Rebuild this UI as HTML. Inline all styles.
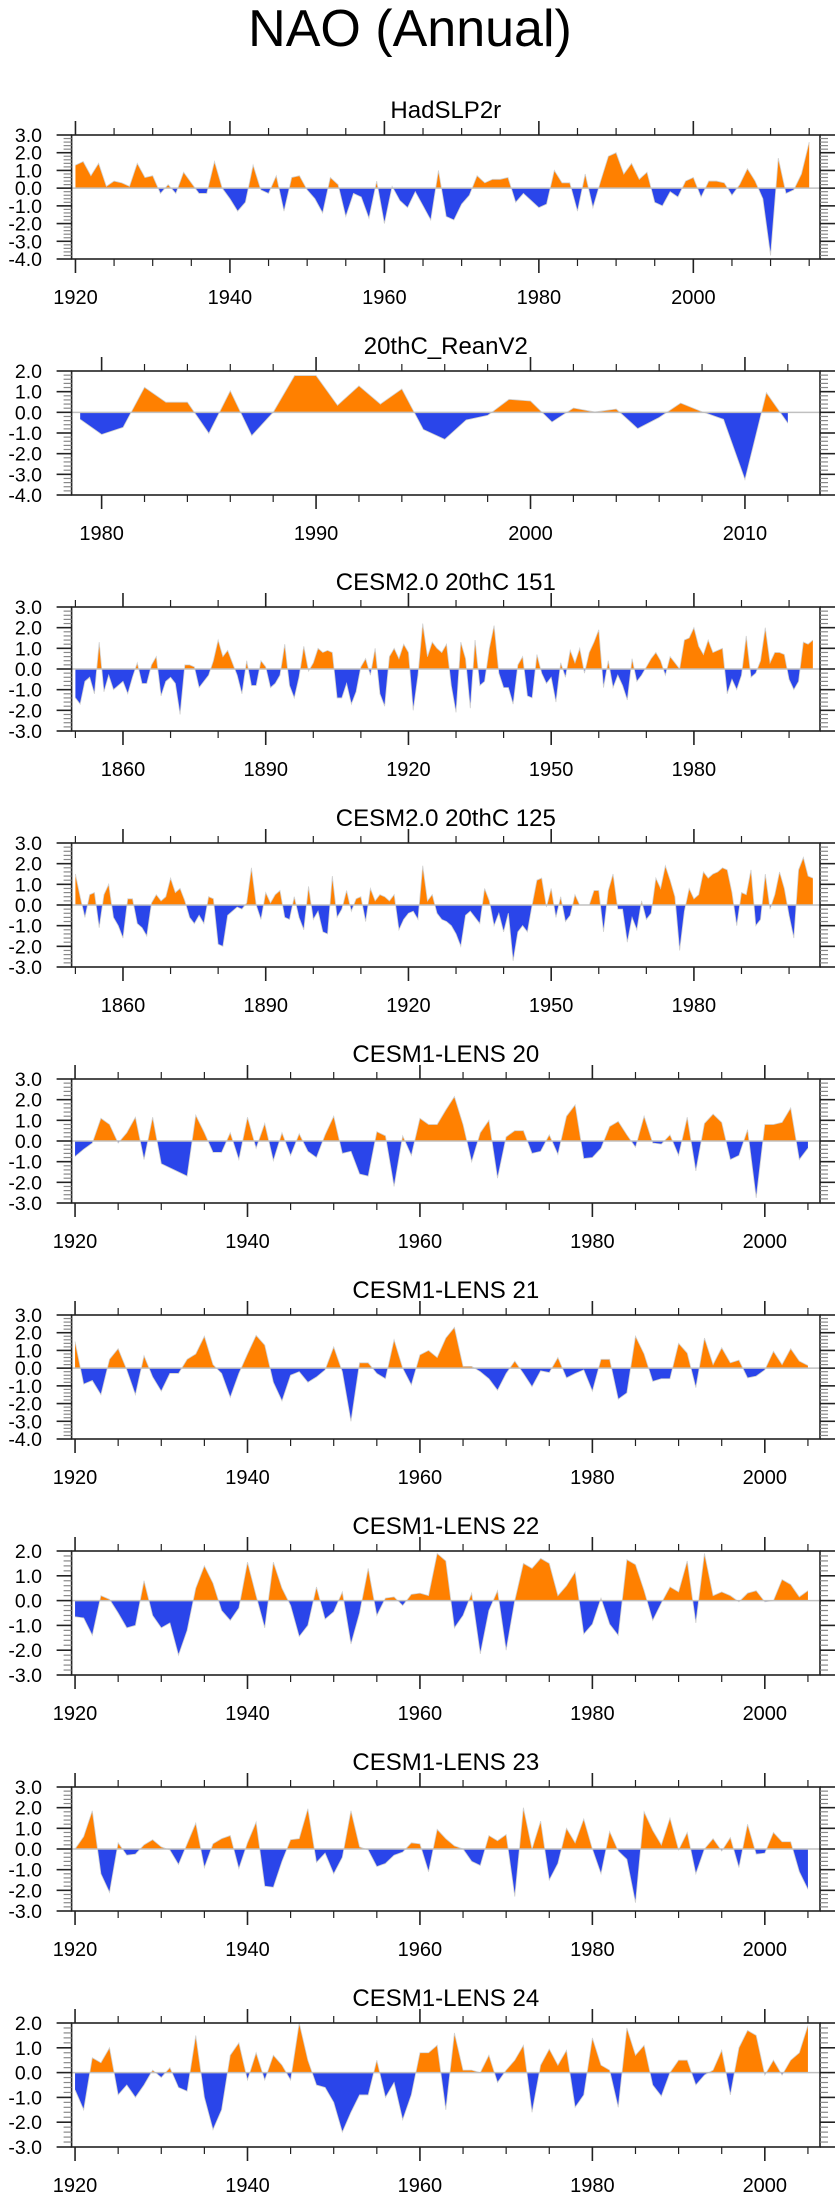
<!DOCTYPE html>
<html><head><meta charset="utf-8">
<style>
html,body{margin:0;padding:0;background:#fff;}
svg{display:block;font-family:"Liberation Sans",sans-serif;}
</style></head>
<body>
<svg id="chart" width="840" height="2200" viewBox="0 0 840 2200" xmlns="http://www.w3.org/2000/svg">
<text x="410" y="46" font-size="52" text-anchor="middle" fill="#000">NAO (Annual)</text>
</svg>
<script>
const hadslp2r = [1.3,1.5,0.7,1.4,0.1,0.4,0.3,0.1,1.4,0.6,0.7,-0.3,0.2,-0.3,0.9,0.3,-0.3,-0.3,1.5,0.0,-0.6,-1.3,-0.8,1.3,-0.1,-0.3,0.7,-1.3,0.6,0.7,-0.1,-0.6,-1.4,0.6,0.2,-1.6,-0.3,-0.5,-1.7,0.4,-2.0,0.1,-0.7,-1.1,-0.2,-1.0,-1.8,1.0,-1.6,-1.8,-0.9,-0.4,0.7,0.3,0.5,0.5,0.6,-0.8,-0.3,-0.7,-1.1,-0.9,1.0,0.3,0.3,-1.3,0.8,-1.1,0.4,1.8,2.0,0.8,1.4,0.5,0.9,-0.8,-1.0,-0.2,-0.5,0.4,0.6,-0.5,0.4,0.4,0.3,-0.4,0.2,1.1,0.4,-0.6,-3.8,1.7,-0.3,-0.1,0.8,2.6];
const reanV2 = [-0.34,-1.07,-0.73,1.21,0.49,0.49,-1.02,1.04,-1.13,0.0,1.78,1.78,0.34,1.28,0.40,1.13,-0.83,-1.31,-0.37,-0.15,0.63,0.55,-0.47,0.21,0.02,0.16,-0.79,-0.25,0.45,0.03,-0.34,-3.25,0.95,-0.53];
const cesm2_151 = [-1.4,-1.7,-0.6,-0.4,-1.2,1.3,-1.1,-0.3,-1.0,-0.8,-0.6,-1.2,-0.4,0.3,-0.7,-0.7,0.2,0.6,-1.3,-0.6,-0.4,-0.7,-2.2,0.2,0.2,0.1,-0.9,-0.6,-0.3,0.4,1.4,0.6,0.9,0.3,-0.3,-1.2,0.4,-0.8,-0.8,0.4,0.1,-0.9,-0.7,-0.3,1.2,-0.8,-1.4,-0.4,1.1,-0.1,0.3,1.0,0.8,0.9,0.8,-1.4,-1.4,-0.7,-1.7,-1.1,0.1,0.5,-0.3,1.0,-1.2,-1.8,0.6,1.0,0.5,1.2,0.8,-2.0,-0.3,2.2,0.6,1.3,1.0,0.8,1.2,-0.8,-2.1,1.3,0.5,-1.9,1.4,-0.8,-0.6,1.0,2.1,-0.2,-0.9,-0.9,-1.7,0.2,0.6,-1.3,-1.4,0.7,-0.2,-0.7,-0.4,-1.6,0.3,-0.4,0.9,0.3,1.0,-0.2,0.8,1.3,1.9,-0.9,0.4,-0.9,-0.3,-0.8,-1.5,0.5,-0.6,-0.3,0.1,0.5,0.8,0.4,-0.3,0.6,0.3,0.0,1.4,1.5,2.0,1.1,0.7,1.4,0.8,0.9,1.0,-1.2,-0.5,-1.0,-0.3,1.6,-0.4,-0.2,0.4,2.0,0.3,0.8,0.8,0.7,-0.5,-1.0,-0.6,1.3,1.2,1.4];
const cesm2_125 = [1.5,0.4,-0.6,0.5,0.6,-1.1,0.5,1.0,-0.6,-1.0,-1.6,0.3,0.3,-0.9,-1.1,-1.5,0.1,0.5,0.2,0.4,1.3,0.6,0.8,0.2,-0.6,-0.9,-0.5,-0.9,0.4,0.3,-1.9,-2.0,-0.5,-0.3,-0.1,-0.2,0.1,1.8,0.0,-0.7,0.6,0.1,0.5,0.7,-0.6,-0.7,0.4,-0.6,-1.2,0.9,-0.7,-0.3,-1.3,-1.4,1.4,-0.6,-0.2,0.7,-0.3,0.3,0.4,-0.8,0.8,0.2,0.5,0.4,0.2,0.5,-1.2,-0.7,-0.4,-0.3,-0.7,1.9,0.2,0.5,-0.4,-0.7,-0.8,-1.0,-1.4,-2.0,-0.5,-0.3,-0.6,-0.9,0.8,0.2,-1.0,-0.4,-1.3,-0.4,-2.7,-1.3,-1.0,-1.3,0.0,1.2,1.3,-0.1,0.8,-0.6,0.4,-0.8,-0.5,0.5,0.0,0.0,0.0,0.7,0.7,-1.3,0.7,1.5,-0.2,-0.2,-1.8,-0.6,-1.2,0.2,-0.7,-0.4,1.3,0.8,1.9,1.2,0.4,-2.2,-0.3,0.8,0.3,0.5,1.6,1.3,1.5,1.6,1.8,1.7,0.6,-1.0,0.6,0.5,1.7,-1.0,-0.7,1.5,-0.2,0.5,1.6,0.8,-0.5,-1.6,1.7,2.3,1.4,1.3];
const lens20 = [-0.75,-0.4,-0.1,1.1,0.8,-0.1,0.4,1.15,-0.9,1.15,-1.1,-1.3,-1.5,-1.7,1.25,0.4,-0.55,-0.55,0.4,-0.9,1.15,-0.35,0.85,-0.95,0.4,-0.7,0.35,-0.5,-0.8,0.3,1.2,-0.6,-0.5,-1.6,-1.7,0.45,0.25,-2.2,0.25,-0.7,1.1,0.8,0.8,1.5,2.15,0.8,-1.0,0.4,1.0,-1.8,0.2,0.5,0.5,-0.6,-0.5,0.3,-0.65,1.2,1.75,-0.85,-0.8,-0.35,0.7,0.95,0.3,-0.3,1.2,-0.1,-0.15,0.3,-0.7,1.15,-1.45,0.85,1.3,0.9,-0.9,-0.7,0.55,-2.75,0.8,0.8,0.9,1.6,-0.9,-0.35];
const lens21 = [1.5,-0.9,-0.7,-1.5,0.5,1.1,-0.1,-1.5,0.7,-0.5,-1.3,-0.3,-0.3,0.5,0.8,1.8,0.2,-0.3,-1.65,-0.3,0.8,1.85,1.3,-0.8,-1.85,-0.4,-0.2,-0.8,-0.5,-0.1,1.2,-0.2,-3.0,0.3,0.3,-0.3,-0.6,1.6,0.0,-0.95,0.75,1.0,0.6,1.7,2.3,0.1,0.1,-0.2,-0.6,-1.25,-0.3,0.4,-0.3,-1.05,-0.15,-0.25,0.6,-0.55,-0.3,-0.1,-1.3,0.5,0.5,-1.75,-1.4,1.8,0.8,-0.75,-0.6,-0.6,1.4,0.85,-1.1,1.7,0.2,1.15,0.3,0.45,-0.55,-0.45,-0.1,0.95,0.2,1.1,0.4,0.15];
const lens22 = [-0.65,-0.7,-1.4,0.2,0.05,-0.5,-1.1,-1.0,0.8,-0.6,-1.1,-0.9,-2.2,-1.2,0.5,1.4,0.7,-0.4,-0.8,-0.3,1.55,0.2,-1.1,1.55,0.5,-0.2,-1.45,-1.0,0.55,-0.75,-0.45,0.35,-1.75,-0.5,1.3,-0.6,0.1,0.15,-0.2,0.25,0.3,0.2,1.9,1.6,-1.1,-0.6,0.3,-2.15,-0.4,0.4,-2.0,0.0,1.5,1.3,1.7,1.5,0.2,0.6,1.15,-1.35,-0.95,0.1,-0.95,-1.4,1.65,1.45,0.4,-0.8,-0.1,0.55,0.35,1.6,-0.9,1.9,0.2,0.35,0.2,-0.05,0.3,0.4,-0.05,0.0,0.85,0.65,0.15,0.4];
const lens23 = [0.0,0.6,1.85,-1.2,-2.1,0.3,-0.3,-0.25,0.2,0.45,0.1,-0.05,-0.75,0.25,1.25,-0.9,0.25,0.5,0.65,-0.95,0.3,1.3,-1.8,-1.85,-0.6,0.45,0.5,1.95,-0.65,-0.2,-1.2,-0.4,1.85,0.1,-0.05,-0.85,-0.7,-0.3,-0.15,0.3,0.25,-1.1,0.95,0.5,0.15,0.0,-0.6,-0.8,0.65,0.4,0.7,-2.3,2.0,0.0,1.35,-1.5,-0.7,1.0,0.3,1.45,0.0,-1.2,0.85,-0.1,-0.5,-2.6,1.8,0.9,0.2,1.5,-0.05,0.8,-1.2,0.0,0.5,-0.1,0.55,-0.9,1.2,-0.25,-0.2,0.8,0.35,0.35,-1.1,-1.95];
const lens24 = [-0.7,-1.5,0.6,0.4,1.0,-0.9,-0.5,-1.0,-0.5,0.1,-0.2,0.2,-0.6,-0.75,1.5,-1.0,-2.3,-1.5,0.7,1.2,-0.3,0.8,-0.3,0.7,0.3,-0.3,2.0,0.5,-0.5,-0.6,-1.2,-2.4,-1.6,-0.9,-0.9,0.5,-1.0,-0.4,-1.9,-0.9,0.8,0.8,1.1,-1.5,1.6,0.1,0.1,0.0,0.7,-0.4,0.1,0.5,1.1,-1.6,0.3,0.95,0.3,0.9,-1.4,-0.9,1.4,0.3,0.1,-1.4,1.8,0.7,1.1,-0.5,-0.95,0.0,0.5,0.5,-0.5,-0.1,0.1,0.9,-0.9,1.0,1.7,1.5,-0.1,0.5,-0.1,0.5,0.8,1.9];

const panelTitles = ["HadSLP2r","20thC_ReanV2","CESM2.0 20thC 151","CESM2.0 20thC 125","CESM1-LENS 20","CESM1-LENS 21","CESM1-LENS 22","CESM1-LENS 23","CESM1-LENS 24"];
const panelSeries = [hadslp2r, reanV2, cesm2_151, cesm2_125, lens20, lens21, lens22, lens23, lens24];
const startYears = [1920,1979,1850,1850,1920,1920,1920,1920,1920];
const yMins = [-4,-4,-3,-3,-3,-4,-3,-3,-3];
const yMaxs = [3,2,3,3,3,3,2,3,2];
const xMins = [1919.5,1978.6,1849.2,1849.2,1919.6,1919.6,1919.6,1919.6,1919.6];
const xMaxs = [2016.4,2013.5,2006.5,2006.5,2006.4,2006.4,2006.4,2006.4,2006.4];
const majorSteps = [20,10,30,30,20,20,20,20,20];
const minorSteps = [5,2,10,10,5,5,5,5,5];
const majorStarts = [1920,1980,1860,1860,1920,1920,1920,1920,1920];

const NS = "http://www.w3.org/2000/svg";
const svg = document.getElementById("chart");
function mk(tag, attrs, parent){
  const e = document.createElementNS(NS, tag);
  for (const k in attrs) e.setAttribute(k, attrs[k]);
  (parent||svg).appendChild(e);
  return e;
}
const L = 71.6, R = 820, H = 124;
panelSeries.forEach(function(data, p){
  const top = 135 + 236*p, bot = top + H;
  const g = mk("g", {});
  
  
  const xs = v => L + (v - xMins[p]) / (xMaxs[p] - xMins[p]) * (R - L);
  const ys = v => bot - (v - yMins[p]) / (yMaxs[p] - yMins[p]) * H;
  const y0 = ys(0);
  const t = mk("text", {x: (L+R)/2, y: top-17, "font-size": 24, "text-anchor": "middle", fill: "#000"}, g);
  t.textContent = panelTitles[p];
  
  
  const defs = mk("defs", {}, g);
  const ca = mk("clipPath", {id: "ca"+p}, defs);
  mk("rect", {x: L, y: top, width: R-L, height: y0-top}, ca);
  const cb = mk("clipPath", {id: "cb"+p}, defs);
  mk("rect", {x: L, y: y0, width: R-L, height: bot-y0}, cb);
  let d = "M" + xs(startYears[p]).toFixed(2) + "," + y0.toFixed(2);
  let ln = "";
  data.forEach(function(v, i){
    const px = xs(startYears[p] + i).toFixed(2), py = ys(v).toFixed(2);
    d += " L" + px + "," + py;
    ln += (i ? " L" : "M") + px + "," + py;
  });
  d += " L" + xs(startYears[p] + data.length - 1).toFixed(2) + "," + y0.toFixed(2) + " Z";
  const above = mk("path", {d: d, fill: "#FF8000", "clip-path": "url(#ca"+p+")"}, g);
  
  
  const below = mk("path", {d: d, fill: "#2A45EA", "clip-path": "url(#cb"+p+")"}, g);
  
  
  const curve = mk("path", {d: ln, fill: "none", stroke: "#d0d0d0", "stroke-width": 0.8}, g);
  
  
  const zl = mk("line", {x1: L, x2: R, y1: y0, y2: y0, stroke: "#c0c0c0", "stroke-width": 1.5}, g);
  
  
  const fr = mk("rect", {x: L, y: top, width: R-L, height: H, fill: "none", stroke: "#222", "stroke-width": 1.6}, g);
  
  
  for (let k = Math.round(yMins[p]*5); k <= Math.round(yMaxs[p]*5); k++){
    const v = k/5, yy = ys(v);
    const major = (k % 5 === 0);
    const len = major ? 15 : 8;
    mk("line", {x1: L-len, x2: L, y1: yy, y2: yy, stroke: major ? "#222" : "#888", "stroke-width": major ? 1.6 : 1.2}, g);
    mk("line", {x1: R, x2: R+len, y1: yy, y2: yy, stroke: major ? "#222" : "#888", "stroke-width": major ? 1.6 : 1.2}, g);
    if (major){
      const lb = mk("text", {x: 42, y: yy+7, "font-size": 19.5, "text-anchor": "end", fill: "#000"}, g);
      lb.textContent = v.toFixed(1);
      
      
    }
  }
  const first = Math.ceil(xMins[p]/minorSteps[p])*minorSteps[p];
  for (let yr = first; yr <= xMaxs[p]; yr += minorSteps[p]){
    const xx = xs(yr);
    const major = ((yr - majorStarts[p]) % majorSteps[p] === 0);
    const len = major ? 14 : 7;
    mk("line", {x1: xx, x2: xx, y1: top-len, y2: top, stroke: "#222", "stroke-width": major ? 1.6 : 1.2}, g);
    mk("line", {x1: xx, x2: xx, y1: bot, y2: bot+len, stroke: "#222", "stroke-width": major ? 1.6 : 1.2}, g);
    if (major){
      const lb = mk("text", {x: xx, y: bot+45, "font-size": 20, "text-anchor": "middle", fill: "#000"}, g);
      lb.textContent = String(yr);
      
      
    }
  }
});
</script>
</body></html>
